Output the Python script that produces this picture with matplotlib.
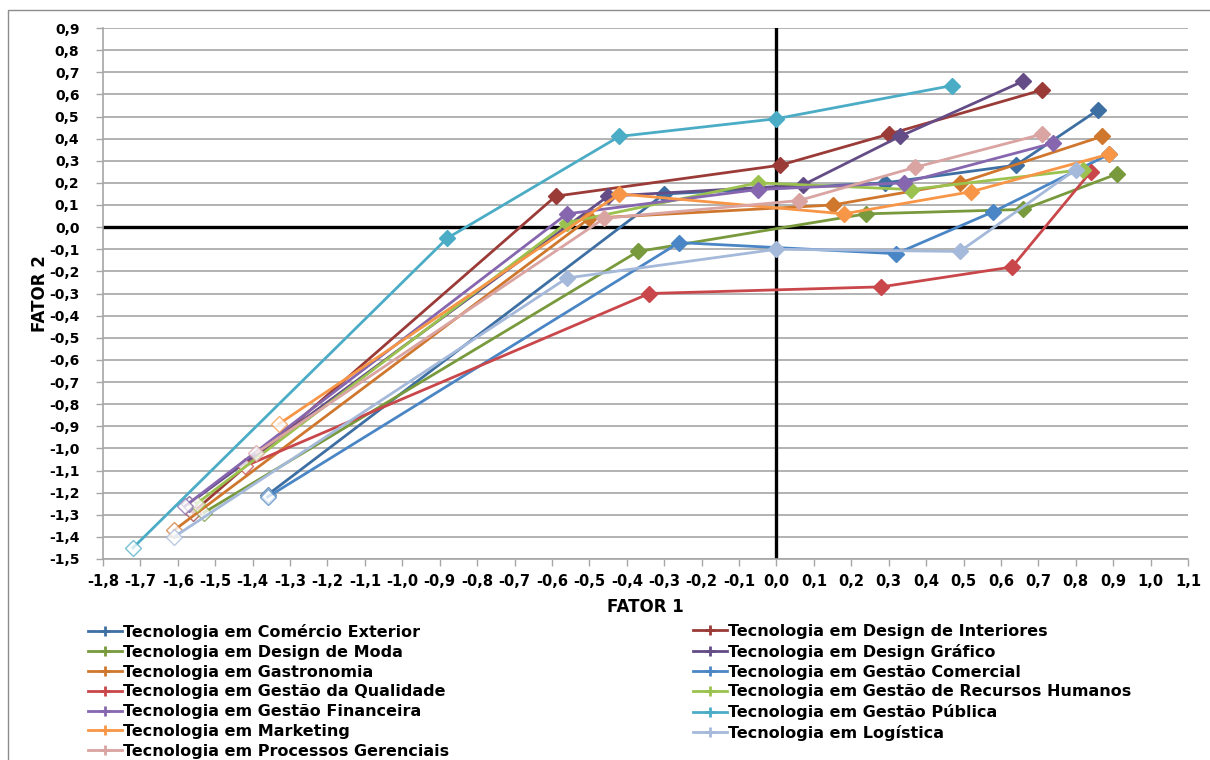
import matplotlib.pyplot as plt
from matplotlib.patches import Rectangle

plt.rcParams['font.family'] = ['DejaVu Sans']

# series names (legend order)
names = [
    "Tecnologia em Comércio Exterior",
    "Tecnologia em Design de Interiores",
    "Tecnologia em Design de Moda",
    "Tecnologia em Design Gráfico",
    "Tecnologia em Gastronomia",
    "Tecnologia em Gestão Comercial",
    "Tecnologia em Gestão da Qualidade",
    "Tecnologia em Gestão de Recursos Humanos",
    "Tecnologia em Gestão Financeira",
    "Tecnologia em Gestão Pública",
    "Tecnologia em Marketing",
    "Tecnologia em Logística",
    "Tecnologia em Processos Gerenciais",
]

colors = ["#3E6FA3", "#9B3B38", "#789A3C", "#644C86", "#D0772E", "#4A86C5",
          "#C9474A", "#9BC24E", "#8666AE", "#4BACC6", "#F79646", "#A5B9DA",
          "#D9A4A2"]

# FATOR 1 values per series
fator1 = [
    [-1.36, -0.30, 0.29, 0.64, 0.86],
    [-1.56, -0.59, 0.01, 0.30, 0.71],
    [-1.53, -0.37, 0.24, 0.66, 0.91],
    [-1.57, -0.45, 0.07, 0.33, 0.66],
    [-1.61, -0.50, 0.15, 0.49, 0.87],
    [-1.36, -0.26, 0.32, 0.58, 0.89],
    [-1.42, -0.34, 0.28, 0.63, 0.84],
    [-1.55, -0.56, -0.05, 0.36, 0.82],
    [-1.58, -0.56, -0.05, 0.34, 0.74],
    [-1.72, -0.88, -0.42, 0.00, 0.47],
    [-1.33, -0.42, 0.18, 0.52, 0.89],
    [-1.61, -0.56, 0.00, 0.49, 0.80],
    [-1.39, -0.46, 0.06, 0.37, 0.71],
]

# FATOR 2 values per series
fator2 = [
    [-1.21, 0.15, 0.20, 0.28, 0.53],
    [-1.29, 0.14, 0.28, 0.42, 0.62],
    [-1.29, -0.11, 0.06, 0.08, 0.24],
    [-1.25, 0.14, 0.19, 0.41, 0.66],
    [-1.37, 0.04, 0.10, 0.20, 0.41],
    [-1.22, -0.07, -0.12, 0.07, 0.33],
    [-1.08, -0.30, -0.27, -0.18, 0.25],
    [-1.25, 0.02, 0.20, 0.17, 0.26],
    [-1.26, 0.06, 0.17, 0.20, 0.38],
    [-1.45, -0.05, 0.41, 0.49, 0.64],
    [-0.89, 0.15, 0.06, 0.16, 0.33],
    [-1.40, -0.23, -0.10, -0.11, 0.26],
    [-1.02, 0.04, 0.12, 0.27, 0.42],
]

xticks = [round(-1.8 + 0.1 * i, 1) for i in range(30)]
yticks = [round(-1.5 + 0.1 * i, 1) for i in range(25)]

fig = plt.figure(figsize=(12.1, 7.6), dpi=100)
ax = fig.add_axes([103 / 1210, 1 - 559 / 760, (1188 - 103) / 1210, (559 - 28) / 760])

# outer chart frame
fig.patches.append(Rectangle((8 / 1210, -0.05), 1.1, 1 - 10 / 760 + 0.05,
                             transform=fig.transFigure, fill=False,
                             edgecolor="#8C8C8C", linewidth=1.0))

ax.set_xlim(-1.8, 1.1)
ax.set_ylim(-1.5, 0.9)
ax.set_yticks(yticks)
ax.set_xticks(xticks)
ax.yaxis.grid(True, color="#A6A6A6", linewidth=1.2)
ax.set_axisbelow(True)
for s in ["top", "right"]:
    ax.spines[s].set_visible(False)
for s in ["left", "bottom"]:
    ax.spines[s].set_color("#A6A6A6")
    ax.spines[s].set_linewidth(1.2)
ax.tick_params(length=5, color="#A6A6A6", width=1.0)
ax.tick_params(axis="y", pad=12)
ax.tick_params(axis="x", pad=6)

fmt = lambda v: ("%.1f" % v).replace(".", ",")
ax.set_xticklabels([fmt(v) for v in xticks], fontsize=10.5, fontweight="bold")
ax.set_yticklabels([fmt(v) for v in yticks], fontsize=10, fontweight="bold")

ax.axhline(0, color="black", linewidth=2.4, zorder=1.5)
ax.axvline(0, color="black", linewidth=2.4, zorder=1.5)

handles = []
for i in range(len(names)):
    xs, ys, c = fator1[i], fator2[i], colors[i]
    ax.plot(xs, ys, color=c, linewidth=2.0, marker="D", markersize=8,
            markevery=[1, 2, 3, 4], markerfacecolor=c, markeredgecolor=c,
            label=names[i], zorder=3)
    ax.plot(xs[0], ys[0], linestyle="none", marker="D", markersize=8,
            markerfacecolor="white", markeredgecolor=c, markeredgewidth=1.0,
            alpha=0.75, zorder=3)
    handles.append(plt.Line2D([], [], color=c, linewidth=2.0, marker="+",
                              markersize=7, markeredgewidth=2.0))

ax.set_xlabel("FATOR 1", fontsize=12, fontweight="bold", labelpad=6)
ax.set_ylabel("FATOR 2", fontsize=12, fontweight="bold", labelpad=0)

left = [0, 2, 4, 6, 8, 10, 12]
right = [1, 3, 5, 7, 9, 11]
leg_kw = dict(loc="upper left", frameon=False,
              prop={"weight": "bold", "size": 11.5}, handlelength=2.1,
              handletextpad=0.1, labelspacing=0.3, borderaxespad=0,
              borderpad=0)
fig.legend([handles[i] for i in left], [names[i] for i in left],
           bbox_to_anchor=(88 / 1210, 1 - 624 / 760), **leg_kw)
fig.legend([handles[i] for i in right], [names[i] for i in right],
           bbox_to_anchor=(693 / 1210, 1 - 624 / 760), **leg_kw)

fig.savefig("out.png", dpi=100)
